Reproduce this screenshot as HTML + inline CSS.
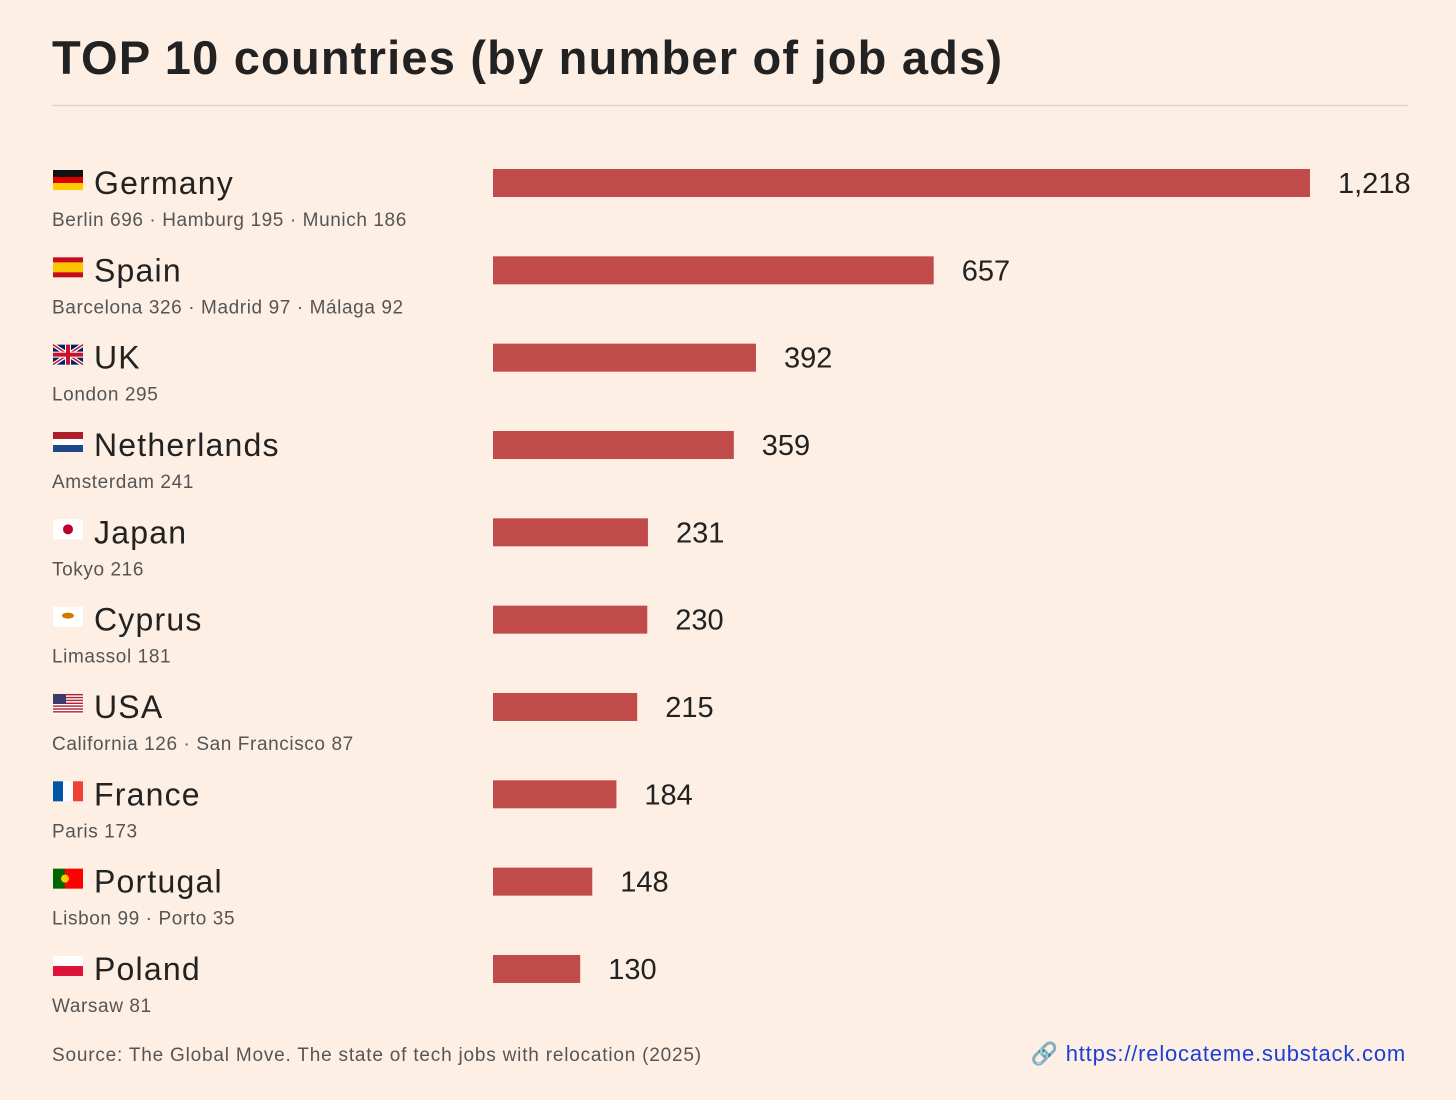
<!DOCTYPE html>
<html><head><meta charset="utf-8"><style>
body{margin:0;background:#fdefe4;font-family:"Liberation Sans",sans-serif;}
svg{display:block}
</style></head><body>
<svg id="c" width="1456" height="1100">
<rect width="1456" height="1100" fill="#fdefe4"/>
<text x="52" y="74" font-size="47" font-weight="bold" fill="#222" letter-spacing="1.2">TOP 10 countries (by number of job ads)</text>
<line x1="52" y1="105.5" x2="1408" y2="105.5" stroke="#ddd6d0" stroke-width="1.5"/>
<text x="52" y="1061" font-size="19" fill="#555" letter-spacing="0.8">Source: The Global Move. The state of tech jobs with relocation (2025)</text>
<text x="1406" y="1061" font-size="22" fill="#1a3fd6" text-anchor="end" letter-spacing="0.8">🔗 https://relocateme.substack.com</text>
</svg>
<script>
const countries=["Germany","Spain","UK","Netherlands","Japan","Cyprus","USA","France","Portugal","Poland"];
const values=[1218,657,392,359,231,230,215,184,148,130];
const valueLabels=["1,218","657","392","359","231","230","215","184","148","130"];
const cities=["Berlin 696 · Hamburg 195 · Munich 186","Barcelona 326 · Madrid 97 · Málaga 92","London 295","Amsterdam 241","Tokyo 216","Limassol 181","California 126 · San Francisco 87","Paris 173","Lisbon 99 · Porto 35","Warsaw 81"];
const svg=document.getElementById('c');const NS="http://www.w3.org/2000/svg";
const x0=493,scale=817/1218;
const xs=v=>x0+v*scale;
const ys=i=>183+i*87.33;
function el(t,a,p){const e=document.createElementNS(NS,t);for(const k in a)e.setAttribute(k,a[k]);(p||svg).appendChild(e);return e;}
function flag(i,g){
 const w=30,h=20;
 const r=(x,y,ww,hh,f)=>el('rect',{x,y,width:ww,height:hh,fill:f},g);
 switch(countries[i]){
 case"Germany":r(0,0,w,7,"#111");r(0,7,w,6,"#d00");r(0,13,w,7,"#fc0");break;
 case"Spain":r(0,0,w,h,"#c60b1e");r(0,5,w,10,"#ffc400");break;
 case"UK":r(0,0,w,h,"#012169");el('path',{d:"M0 0L30 20M30 0L0 20",stroke:"#fff","stroke-width":4},g);el('path',{d:"M0 0L30 20M30 0L0 20",stroke:"#c8102e","stroke-width":1.5},g);r(12,0,6,h,"#fff");r(0,7,w,6,"#fff");r(13,0,4,h,"#c8102e");r(0,8,w,4,"#c8102e");break;
 case"Netherlands":r(0,0,w,7,"#ae1c28");r(0,7,w,6,"#fff");r(0,13,w,7,"#21468b");break;
 case"Japan":r(0,0,w,h,"#fff");el('circle',{cx:15,cy:10,r:5,fill:"#bc002d"},g);break;
 case"Cyprus":r(0,0,w,h,"#fff");el('ellipse',{cx:15,cy:9,rx:6,ry:3,fill:"#d57800"},g);break;
 case"USA":r(0,0,w,h,"#fff");for(let k=0;k<7;k++)r(0,k*20/7,w,20/14,"#b22234");r(0,0,13,10,"#3c3b6e");break;
 case"France":r(0,0,10,h,"#0055a4");r(10,0,10,h,"#fff");r(20,0,10,h,"#ef4135");break;
 case"Portugal":r(0,0,12,h,"#006600");r(12,0,18,h,"#ff0000");el('circle',{cx:12,cy:10,r:4,fill:"#ffcc00"},g);break;
 case"Poland":r(0,0,w,10,"#fff");r(0,10,w,10,"#dc143c");break;
 }
}
countries.forEach((c,i)=>{
 const y=ys(i);
 const g=el('g',{transform:`translate(53,${y-13})`});
 
 
 flag(i,g);
 const n=el('text',{x:94,y:y+11,'font-size':32,fill:"#222",'letter-spacing':1.2});n.textContent=c;
 
 
 const s=el('text',{x:52,y:y+43,'font-size':19,fill:"#555",'letter-spacing':0.6});s.textContent=cities[i];
 
 
 const b=el('rect',{x:x0,y:y-14,width:xs(values[i])-x0,height:28,fill:"#c14b4b"});
 
 
 const v=el('text',{x:xs(values[i])+28,y:y+10,'font-size':29,fill:"#222"});v.textContent=valueLabels[i];
 
 
});
</script>
</body></html>
